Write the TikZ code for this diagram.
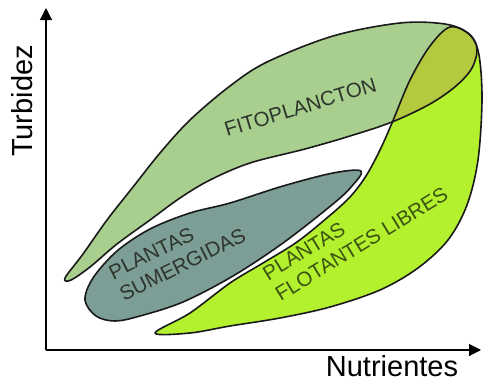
\documentclass[tikz,border=0pt]{standalone}
\usepackage{fontspec}
\setmainfont{Liberation Sans}
\usetikzlibrary{arrows.meta}
\definecolor{fitoc}{HTML}{A9CF8F}
\definecolor{flotc}{HTML}{B3F02E}
\definecolor{overc}{HTML}{B5C93F}
\definecolor{sumc}{HTML}{7C9E96}
\definecolor{edgec}{HTML}{1A1A1A}
\definecolor{txtc}{HTML}{2E352C}
\definecolor{txtf}{HTML}{3C5410}
\tikzset{
  outline/.style={draw=edgec, line width=1.6pt, line join=round},
  axisline/.style={draw=black, line width=1.1pt, -{Triangle[length=12pt,width=12pt]}},
  lbl/.style={inner sep=0pt, align=left, font=\fontsize{20.5}{24}\selectfont, text=txtc},
  axlbl/.style={inner sep=0pt, font=\fontsize{29}{34}\selectfont, text=black}
}
\def\fitoshape{plot[smooth cycle, tension=0.55] coordinates {
  (65,278) (83,254) (107,220) (133,187) (160,153) (190,120) (230,86) (267,62)
  (333,36) (400,23) (445,24) (468,33) (477,48) (472,68) (456,86) (430,104)
  (392,122) (350,136) (305,149) (250,163) (210,180) (180,198) (150,220)
  (117,244) (90,267) (71,280)}}
\def\flotshape{plot[smooth cycle, tension=0.55] coordinates {
  (155,333) (190,313) (230,283) (263,263) (297,242) (328,217) (350,197) (366,176)
  (380,150) (392,123) (410,80) (430,46) (450,27) (470,35) (479,55) (482,100)
  (478,160) (467,205) (448,240) (418,268) (380,290) (330,307) (280,318) (230,326)
  (190,333)}}
\def\sumshape{plot[smooth cycle, tension=0.55] coordinates {
  (361,171) (333,173) (283,186) (230,203) (190,213) (150,229) (117,251) (93,278)
  (85,300) (96,316) (115,321) (140,316) (183,302) (233,276) (283,243) (333,204)
  (352,186)}}
\begin{document}
\begin{tikzpicture}[x=1pt, y=-1pt]
\useasboundingbox (0,0) rectangle (483,381);
% fills
\fill[fitoc] \fitoshape;
\fill[flotc] \flotshape;
\begin{scope}
  \clip \fitoshape;
  \fill[overc] \flotshape;
\end{scope}
\fill[sumc] \sumshape;
% outlines
\path[outline] \fitoshape;
\path[outline] \flotshape;
\path[outline] \sumshape;
% axes
\coordinate (O) at (46,350);
\coordinate (ytip) at (46,8);
\coordinate (xtip) at (481,350);
\draw[axisline] (O) -- (ytip);
\draw[axisline] (O) -- (xtip);
\node[axlbl, anchor=base west, rotate=90] (turb) at (33,157) {Turbidez};
\node[axlbl, anchor=base] (nutr) at (392,376) {Nutrientes};
% region labels
\node[lbl, anchor=base west, rotate=17] (fito) at (227,137) {FITOPLANCTON};
\node[lbl, anchor=south west, rotate=26.5] (sum) at (124,302) {PLANTAS\\SUMERGIDAS};
\node[lbl, text=txtf, anchor=south west, rotate=31.5] (flot) at (281,302) {PLANTAS\\FLOTANTES LIBRES};
\end{tikzpicture}
\end{document}
